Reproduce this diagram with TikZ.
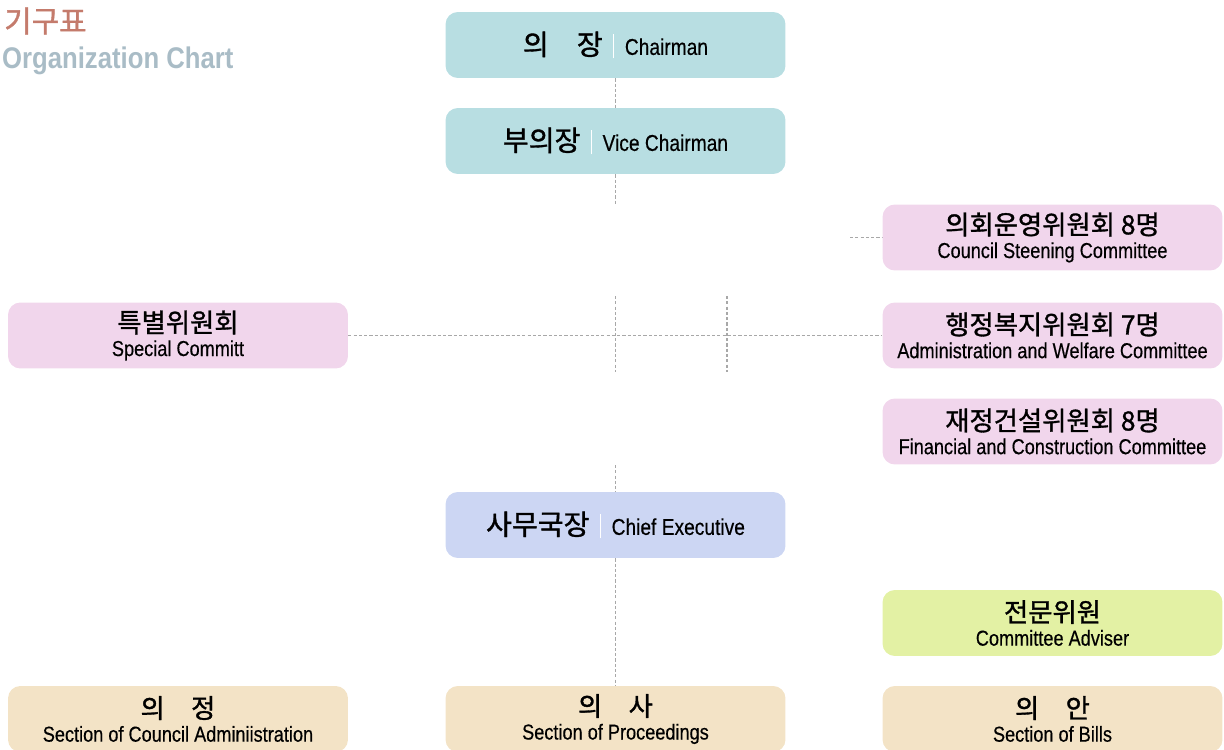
\documentclass[tikz,border=0pt]{standalone}
\usepackage{fontspec}
\usepackage{tikz}
\setmainfont{Liberation Sans}
\newfontfamily\kr[FakeBold=1.2]{Noto Sans CJK KR}
\newfontfamily\en[FakeStretch=0.84, FakeBold=0.4]{Liberation Sans}
\newfontfamily\ttl[FakeStretch=0.86]{Liberation Sans}
\pgfdeclarelayer{bg}
\pgfsetlayers{bg,main}
\definecolor{leadc}{HTML}{B8DEE2}
\definecolor{commc}{HTML}{F1D6EC}
\definecolor{chiefc}{HTML}{CCD6F3}
\definecolor{advc}{HTML}{E3F1A4}
\definecolor{sectc}{HTML}{F3E3C6}
\definecolor{linec}{HTML}{A8A8A8}
\definecolor{titlec}{HTML}{C47B6C}
\definecolor{subc}{HTML}{A9BCC6}
\tikzset{
    box/.style={rounded corners=7pt, inner sep=0pt, align=center,
    	minimum width=6.8cm, minimum height=1.32cm,
    	font=\fontsize{12}{13.5}\selectfont},
    lead/.style={box, fill=leadc},
    comm/.style={box, fill=commc},
    chiefbox/.style={box, fill=chiefc},
    adv/.style={box, fill=advc},
    sect/.style={box, fill=sectc},
    link/.style={draw=linec, line width=0.6pt, dash pattern=on 1.8pt off 1.2pt}
}
\newcommand{\kor}[1]{{\kr\fontsize{15}{16}\selectfont #1}}
\newcommand{\korbig}[1]{{\kr\fontsize{16}{17}\selectfont #1}}
\newcommand{\eng}[1]{{\en\fontsize{12.3}{14}\selectfont #1}}
\newcommand{\engbig}[1]{{\en\fontsize{13}{14}\selectfont #1}}
\newcommand{\sep}{\hspace{0.5em}{\color{white}\rule[-2pt]{0.6pt}{14pt}}\hspace{0.5em}}

\begin{document}
\begin{tikzpicture}[x=0.02cm, y=-0.02cm]
  \useasboundingbox (0,0) rectangle (1224,750);

  \node (t1) [anchor=west, text=titlec] at (-2,21)
  	{\kr\fontsize{17}{19}\selectfont 기구표};
  \node (t2) [anchor=west, text=subc, font=\ttl\bfseries\fontsize{17}{19}\selectfont]
  	at (-4,61) {Organization Chart};

  \node (chair) [lead] at (615.5,45) {\korbig{의\hspace{1em}장}\sep\engbig{Chairman}};
  \node (vice) [lead] at (615.5,141) {\korbig{부의장}\sep\engbig{Vice Chairman}};
  \node (steer) [comm] at (1052.5,237.5)
  	{\kor{의회운영위원회 8명}\\\eng{Council Steening Committee}};
  \node (special) [comm] at (178,335.5)
  	{\kor{특별위원회}\\\eng{Special Committ}};
  \node (admin) [comm] at (1052.5,335.5)
  	{\kor{행정복지위원회 7명}\\\eng{Administration and Welfare Committee}};
  \node (fin) [comm] at (1052.5,431.5)
  	{\kor{재정건설위원회 8명}\\\eng{Financial and Construction Committee}};
  \node (chief) [chiefbox] at (615.5,525) {\korbig{사무국장}\sep\engbig{Chief Executive}};
  \node (adv) [adv] at (1052.5,623)
  	{\kor{전문위원}\\\eng{Committee Adviser}};
  \node (secadm) [sect] at (178,719)
  	{\kor{의\hspace{1em}정}\\\eng{Section of Council Adminiistration}};
  \node (secpro) [sect] at (615.5,719)
  	{\kor{의\hspace{1em}사}\\\eng{Section of Proceedings}};
  \node (secbill) [sect] at (1052.5,719)
  	{\kor{의\hspace{1em}안}\\\eng{Section of Bills}};

  \coordinate (vfoot) at (615.5,205);
  \coordinate (ctop) at (615.5,296);
  \coordinate (cbot) at (615.5,372);
  \coordinate (rtop) at (727,296);
  \coordinate (rbot) at (727,372);
  \coordinate (stub) at (850,237.5);
  \coordinate (chtop) at (615.5,465);

  \begin{pgfonlayer}{bg}
	  \draw[link] (chair) -- (vice); \draw[link] (vice) -- (vfoot);
	  \draw[link] (ctop) -- (cbot); \draw[link] (rtop) -- (rbot);
	  \draw[link] (special) -- (admin); \draw[link] (stub) -- (steer);
	  \draw[link] (chtop) -- (chief); \draw[link] (chief) -- (secpro);
  \end{pgfonlayer}

\end{tikzpicture}
\end{document}
